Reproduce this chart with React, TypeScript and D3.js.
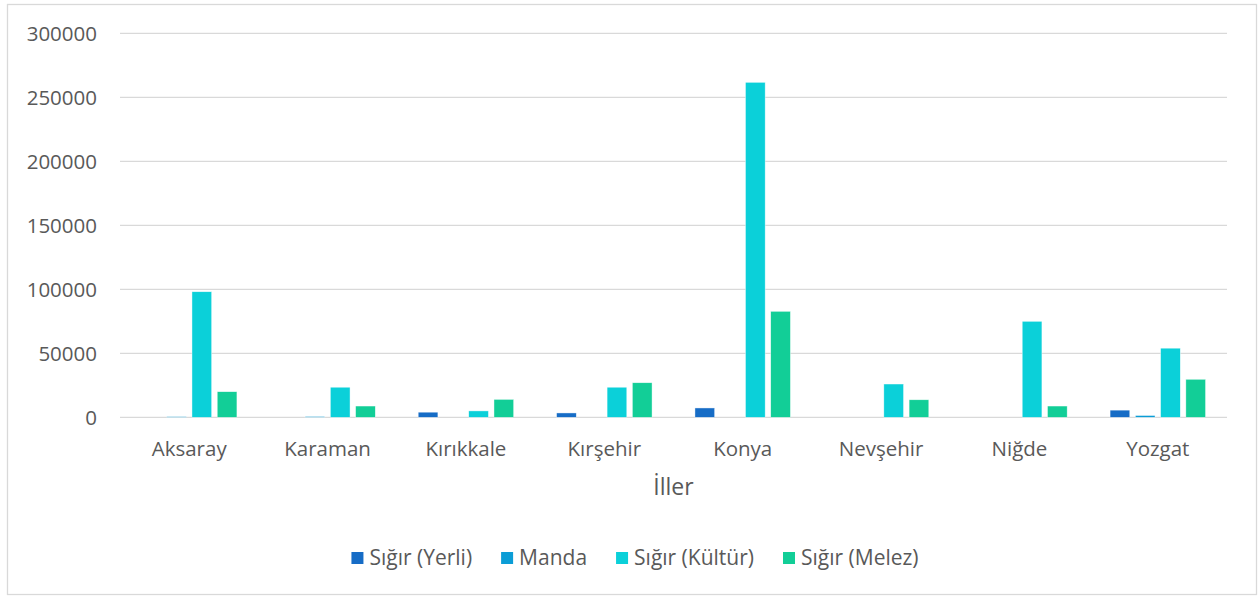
import React from "react"
import * as d3 from "d3"

const categories = ["Aksaray", "Karaman", "Kırıkkale", "Kırşehir", "Konya", "Nevşehir", "Niğde", "Yozgat"]
const seriesNames = ["Sığır (Yerli)", "Manda", "Sığır (Kültür)", "Sığır (Melez)"]
const yerli = [0, 0, 4000, 3400, 7300, 0, 0, 5600]
const manda = [500, 600, 0, 0, 0, 0, 0, 1400]
const kultur = [98100, 23500, 5000, 23500, 261700, 26000, 75000, 54000]
const melez = [20000, 8800, 14000, 27000, 82800, 13700, 8800, 29700]
const yTicks = [0, 50000, 100000, 150000, 200000, 250000, 300000]
const colors = ["#166cc6", "#0b9dd6", "#0bd0d9", "#12ce97"]

const FONT = "'Open Sans', sans-serif"
const TEXT = "#595959"

export default function App() {
  const ref = React.useRef<SVGSVGElement>(null)

  React.useEffect(() => {
    document.body.style.margin = "0"
    const width = 1260
    const height = 597
    const margin = { top: 33.3, left: 120, right: 1227, bottom: 417.3 }
    const values = [yerli, manda, kultur, melez]

    const svg = d3.select(ref.current)
    svg.selectAll("*").remove()
    svg.attr("width", width).attr("height", height)

    // chart border
    svg.append("rect")
      .attr("x", 7.5).attr("y", 4.5)
      .attr("width", 1249).attr("height", 590)
      .attr("fill", "#fff")
      .attr("stroke", "#d9d9d9")
      .attr("stroke-width", 1.3)

    const x0 = d3.scaleBand()
      .domain(categories)
      .range([margin.left, margin.right])
      .paddingInner(0.31)
      .paddingOuter(0.155)

    const x1 = d3.scaleBand()
      .domain(seriesNames)
      .range([0, x0.bandwidth()])
      .paddingInner(0.22)
      .paddingOuter(0)

    const y = d3.scaleLinear()
      .domain([0, 300000])
      .range([margin.bottom, margin.top])

    // gridlines
    svg.append("g")
      .selectAll("line")
      .data(yTicks)
      .enter()
      .append("line")
      .attr("x1", margin.left)
      .attr("x2", margin.right)
      .attr("y1", d => y(d))
      .attr("y2", d => y(d))
      .attr("stroke", "#d9d9d9")
      .attr("stroke-width", 1.3)

    // y labels
    svg.append("g")
      .selectAll("text")
      .data(yTicks)
      .enter()
      .append("text")
      .attr("x", 97)
      .attr("y", d => y(d))
      .attr("dy", "0.36em")
      .attr("text-anchor", "end")
      .attr("font-family", FONT)
      .attr("font-size", 20.5)
      .attr("fill", TEXT)
      .text(d => String(d))

    // bars
    const groups = svg.append("g")
      .selectAll("g")
      .data(categories)
      .enter()
      .append("g")
      .attr("transform", d => `translate(${x0(d)},0)`)

    groups.selectAll("rect")
      .data((c, i) => seriesNames.map((s, k) => ({ s, k, v: values[k][i] })))
      .enter()
      .filter(d => d.v > 0)
      .append("rect")
      .attr("x", d => x1(d.s)!)
      .attr("width", x1.bandwidth())
      .attr("y", d => y(d.v))
      .attr("height", d => y(0) - y(d.v))
      .attr("fill", d => colors[d.k])
      .attr("stroke", "#fff")
      .attr("stroke-width", 0.6)
      .attr("stroke-opacity", 0.7)

    // category labels
    svg.append("g")
      .selectAll("text")
      .data(categories)
      .enter()
      .append("text")
      .attr("x", d => x0(d)! + x0.bandwidth() / 2)
      .attr("y", 456)
      .attr("text-anchor", "middle")
      .attr("font-family", FONT)
      .attr("font-size", 20.5)
      .attr("fill", TEXT)
      .text(d => d)

    // axis title
    svg.append("text")
      .attr("x", (margin.left + margin.right) / 2)
      .attr("y", 495)
      .attr("text-anchor", "middle")
      .attr("font-family", FONT)
      .attr("font-size", 23)
      .attr("fill", TEXT)
      .text("İller")

    // legend
    const legend = svg.append("g")
    let cx = 0
    seriesNames.forEach((name, k) => {
      const item = legend.append("g").attr("transform", `translate(${cx},0)`)
      item.append("rect")
        .attr("x", 0).attr("y", 552)
        .attr("width", 12).attr("height", 12)
        .attr("fill", colors[k])
      const t = item.append("text")
        .attr("x", 18)
        .attr("y", 565)
        .attr("font-family", FONT)
        .attr("font-size", 21)
        .attr("fill", TEXT)
        .text(name)
      const w = (t.node() as SVGTextElement).getComputedTextLength()
      cx += 18 + w + 29
    })
    const total = cx - 29
    legend.attr("transform", `translate(${635 - total / 2},0)`)
  }, [])

  return <svg ref={ref} style={{ display: "block" }}></svg>
}
